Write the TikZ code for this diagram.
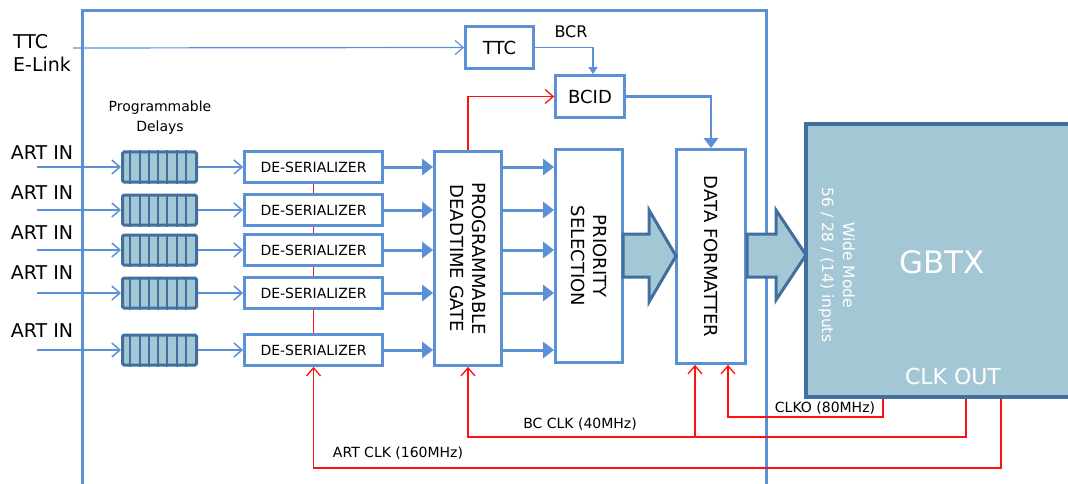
\documentclass[tikz,border=0pt]{standalone}
\usepackage{fontspec}
\setmainfont{DejaVu Sans}
\usetikzlibrary{arrows.meta}

\definecolor{lineblue}{HTML}{5B8FD6}
\definecolor{darkblue}{HTML}{41709F}
\definecolor{lightblue}{HTML}{A4C7D5}
\definecolor{clkred}{HTML}{FF1010}

\tikzset{
  box/.style={draw=lineblue, line width=2.8pt, fill=white, inner sep=0pt, align=center},
  deser/.style={box, minimum width=138pt, minimum height=31pt, font=\fontsize{14}{16}\selectfont},
  tall/.style={box, minimum width=67pt, minimum height=214pt},
  delay/.style={draw=darkblue, line width=3pt, fill=lightblue, rounded corners=1.5pt, minimum width=74pt, minimum height=30pt, inner sep=0pt},
  feed/.style={lineblue, line width=1.5pt, -{Straight Barb[length=8pt,width=14pt]}},
  bus/.style={lineblue, line width=3pt, -{Triangle[length=11pt,width=16pt]}},
  clk/.style={clkred, line width=1.3pt, -{Straight Barb[length=8pt,width=14pt]}},
  bigarrow/.style={draw=darkblue, fill=lightblue, line width=3pt, line join=miter},
  vtext/.style={rotate=-90, align=center, font=\fontsize{18}{22}\selectfont},
  lbl/.style={inner sep=0pt, font=\fontsize{19}{23}\selectfont}
}

\begin{document}
\begin{tikzpicture}[x=1pt,y=-1pt]
  \useasboundingbox (0,0) rectangle (1068,484);
  \clip (0,0) rectangle (1068,484);

  % outer frame
  \draw[lineblue, line width=3pt] (82,490) -- (82,11) -- (766,11) -- (766,490);

  % main blocks
  \node[box, minimum width=68pt, minimum height=42pt, font=\fontsize{18}{20}\selectfont] (ttc) at (499.5,47.5) {TTC};
  \node[box, minimum width=69pt, minimum height=42pt, font=\fontsize{18}{20}\selectfont] (bcid) at (590,96.5) {BCID};
  \node[tall] (pdg) at (468,258.5) {};
  \node[vtext] at (pdg) {PROGRAMMABLE\\DEADTIME GATE};
  \node[tall, minimum height=213pt] (ps) at (589,256) {};
  \node[vtext] at (ps) {PRIORITY\\SELECTION};
  \node[tall, minimum width=69pt] (df) at (711,256.5) {};
  \node[vtext] at (df) {DATA FORMATTER};
  \node[draw=darkblue, fill=lightblue, line width=3.5pt, minimum width=290pt, minimum height=273pt, inner sep=0pt] (gbtx) at (951,260.5) {};
  \node[white, font=\fontsize{31}{34}\selectfont] at (942,262) {GBTX};
  \node[white, rotate=-90, align=center, font=\fontsize{15.5}{21}\selectfont] at (837,265) {Wide Mode\\56 / 28 / (14) inputs};
  \node[white, font=\fontsize{22}{24}\selectfont] at (953,376) {CLK OUT};

  % TTC input
  \node[lbl, align=left, anchor=west] at (13,53) {TTC\\E-Link};
  \coordinate (ttcin) at (73,48);
  \draw[feed, line width=1.2pt] (ttcin) -- (ttc.west);
  \draw[lineblue, line width=1.5pt, -{Triangle[length=7pt,width=9pt]}] (ttc.east) -| ([xshift=3pt]bcid.north);
  \node[font=\fontsize{16}{18}\selectfont] at (571,32) {BCR};
  \draw[lineblue, line width=2.5pt, -{Triangle[length=10pt,width=14pt]}] (bcid.east) -| (df.north);
  \draw[clk] (pdg.north) |- (bcid.west);

  % programmable delays
  \node[align=center, font=\fontsize{14}{20}\selectfont] at (160,118) {Programmable\\Delays};

  % input rows
  \foreach \n/\y/\ly in {1/167/153, 2/210/193, 3/250/233, 4/293/273, 5/350/331} {
    \node[delay] (dl\n) at (159.5,\y) {};
    \foreach \i in {1,...,7}
      \draw[darkblue, line width=2pt] ([xshift=\i*9.25pt]dl\n.north west) -- ([xshift=\i*9.25pt]dl\n.south west);
    \node[deser] (ds\n) at (313.5,\y) {DE-SERIALIZER};
    \node[lbl] at (42,\ly) {ART IN};
    \coordinate (in\n) at (37,\y);
    \draw[feed] (in\n) -- (dl\n);
    \draw[feed] (dl\n) -- (ds\n);
    \draw[bus] (ds\n) -- (pdg.west |- ds\n);
    \draw[bus] (pdg.east |- ds\n) -- (ps.west |- ds\n);
  }
  \foreach \n/\m in {1/2, 2/3, 3/4, 4/5}
    \draw[clkred, line width=1.6pt] (ds\n.south) -- (ds\m.north);

  % wide data paths
  \draw[bigarrow] (623,234) -- (649,234) -- (649,210) -- (676,256) -- (649,302) -- (649,277) -- (623,277) -- cycle;
  \draw[bigarrow] (747,234) -- (776,234) -- (776,210) -- (806,255) -- (776,300) -- (776,277) -- (747,277) -- cycle;

  % clocks
  \coordinate (clko) at (883,417);
  \coordinate (bcclk) at (966,437);
  \coordinate (artclk) at (1001,468);
  \draw[clk] (clko |- gbtx.south) -- (clko) -| ([xshift=17pt]df.south);
  \draw[clk] (bcclk |- gbtx.south) -- (bcclk) -| (pdg.south);
  \draw[clk] (695,437) -- ([xshift=-16pt]df.south);
  \draw[clk] (artclk |- gbtx.south) -- (artclk) -| (ds5.south);
  \node[font=\fontsize{14}{16}\selectfont] at (825,408) {CLKO (80MHz)};
  \node[font=\fontsize{14}{16}\selectfont] at (580,424) {BC CLK (40MHz)};
  \node[font=\fontsize{14}{16}\selectfont] at (398,453) {ART CLK (160MHz)};
\end{tikzpicture}
\end{document}
